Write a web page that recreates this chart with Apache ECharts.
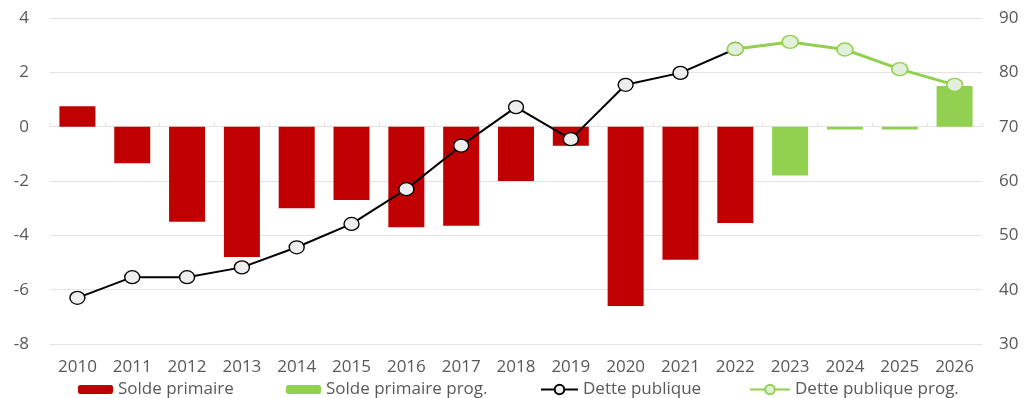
<!DOCTYPE html>
<html>
<head>
<meta charset="utf-8">
<script src="https://cdn.jsdelivr.net/npm/echarts@6/dist/echarts.min.js"></script>
<style>
html,body{margin:0;padding:0;background:#fff;}
#c{width:1029px;height:398px;}
</style>
</head>
<body>
<div id="c"></div>
<script>
const years = ['2010','2011','2012','2013','2014','2015','2016','2017','2018','2019','2020','2021','2022','2023','2024','2025','2026'];
const soldePrimaire = [0.75,-1.35,-3.5,-4.8,-3.0,-2.7,-3.7,-3.65,-2.0,-0.7,-6.6,-4.9,-3.55,null,null,null,null];
const soldePrimaireProg = [null,null,null,null,null,null,null,null,null,null,null,null,null,-1.8,-0.1,-0.1,1.5];
const dettePublique = [38.5,42.3,42.3,44.1,47.8,52.1,58.5,66.5,73.6,67.7,77.7,79.9,84.3,null,null,null,null];
const dettePubliqueProg = [null,null,null,null,null,null,null,null,null,null,null,null,84.3,85.6,84.2,80.6,77.7];

const red = '#c00000', green = '#92d050', txt = '#595959', grid = '#e3e3e3';
const font = 'Open Sans';
const fs = 17;
const chart = echarts.init(document.getElementById('c'), null, {renderer:'canvas'});
const legendText = {color: txt, fontFamily: font, fontSize: fs};
chart.setOption({
  animation: false,
  backgroundColor: '#fff',
  grid: {left: 50, right: 47, top: 18, bottom: 54},
  legend: [
    {data:['Solde primaire'], left: 73, top: 376, padding: 5, itemWidth: 35, itemHeight: 9, textStyle: legendText},
    {data:['Solde primaire prog.'], left: 281, top: 376, padding: 5, itemWidth: 35, itemHeight: 9, textStyle: legendText},
    {data:['Dette publique'], left: 535, top: 376, padding: 5, itemWidth: 37, itemHeight: 12, textStyle: legendText},
    {data:['Dette publique prog.'], left: 744, top: 376, padding: 5, itemWidth: 40, itemHeight: 12, textStyle: legendText}
  ],
  xAxis: [
    {type:'category', data: years, position:'bottom',
     axisLine:{show:false, onZero:false}, axisTick:{show:false},
     axisLabel:{color: txt, fontFamily: font, fontSize: fs, margin: 15}},
    {type:'category', data: years, position:'bottom',
     axisLine:{show:true, onZero:true, lineStyle:{color: grid}},
     axisTick:{show:true, inside:true, length:4, lineStyle:{color: grid}},
     axisLabel:{show:false}}
  ],
  yAxis: [
    {type:'value', min:-8, max:4, interval:2, position:'left',
     axisLine:{show:false}, axisTick:{show:false},
     splitLine:{lineStyle:{color: grid, width:1}},
     axisLabel:{color: txt, fontFamily: font, fontSize: fs, margin: 21}},
    {type:'value', min:30, max:90, interval:10, position:'right',
     axisLine:{show:false}, axisTick:{show:false}, splitLine:{show:false},
     axisLabel:{color: txt, fontFamily: font, fontSize: fs, margin: 17}}
  ],
  series: [
    {name:'Solde primaire', type:'bar', data: soldePrimaire, barWidth: 36, barGap:'-100%',
     itemStyle:{color: red}},
    {name:'Solde primaire prog.', type:'bar', data: soldePrimaireProg, barWidth: 36, barGap:'-100%',
     itemStyle:{color: green}},
    {name:'Dette publique', type:'line', yAxisIndex:1, data: dettePublique,
     symbol:'circle', symbolSize:[15,13], z:5,
     lineStyle:{color:'#000', width:2},
     itemStyle:{color:'#eeeeee', borderColor:'#000', borderWidth:1.3}},
    {name:'Dette publique prog.', type:'line', yAxisIndex:1, data: dettePubliqueProg,
     symbol:'circle', symbolSize:[16,13], z:6,
     lineStyle:{color: green, width:3},
     itemStyle:{color:'#e2efd9', borderColor: green, borderWidth:1.5}}
  ]
});
</script>
</body>
</html>
